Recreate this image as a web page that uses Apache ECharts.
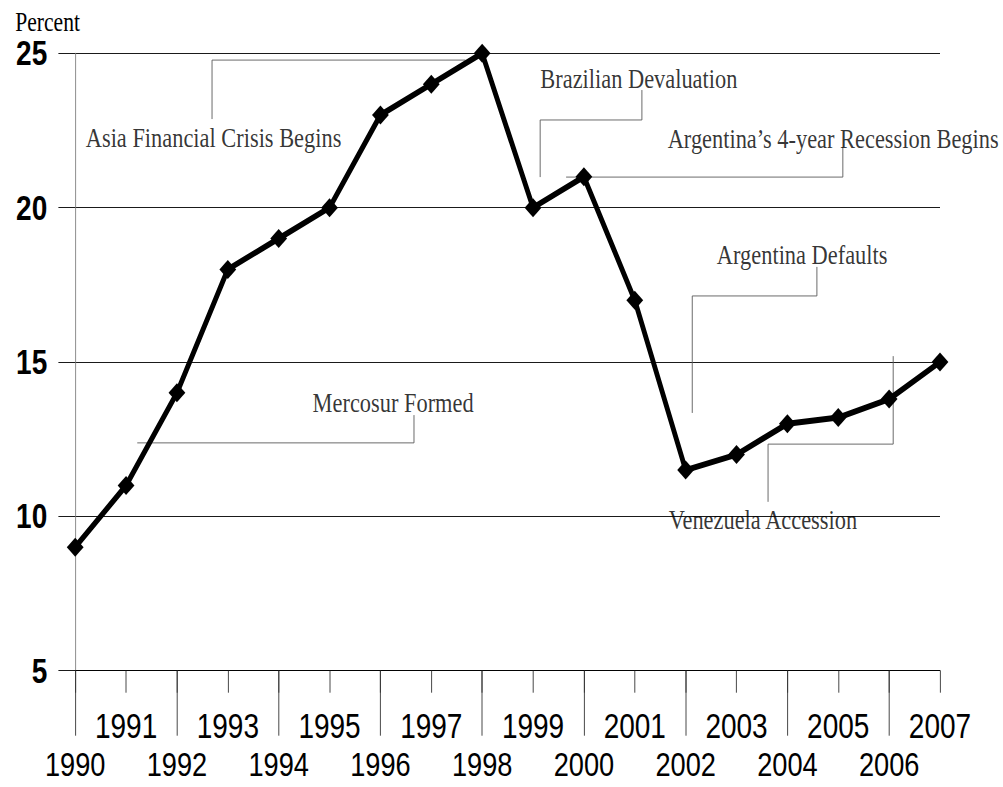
<!DOCTYPE html>
<html>
<head>
<meta charset="utf-8">
<title>Percent</title>
<script src="https://cdn.jsdelivr.net/npm/echarts@6/dist/echarts.min.js"></script>
<style>
	html, body { margin: 0; padding: 0; background: #fff; overflow: hidden; }
	/* the source picture is squeezed sideways, so the chart is drawn wider and squeezed back */
	#rate-chart {
		position: absolute; left: 0; top: 0;
		width: 1254px; height: 787px;
		transform: scaleX(0.8); transform-origin: 0 0;
	}
</style>
</head>
<body>
<div id="rate-chart"></div>
<script>

/*Chart data*/

var years = ['1990', '1991', '1992', '1993', '1994', '1995', '1996', '1997', '1998',
	'1999', '2000', '2001', '2002', '2003', '2004', '2005', '2006', '2007'];
var rates = [9, 11, 14, 18, 19, 20, 23, 24, 25, 20, 21, 17, 11.5, 12, 13, 13.2, 13.8, 15];
var yTicks = [5, 10, 15, 20, 25];

/*Annotations (year, percent)*/

var noteLabels = [
	'Asia Financial Crisis Begins',
	'Brazilian Devaluation',
	'Argentina\u2019s 4-year Recession Begins',
	'Argentina Defaults',
	'Venezuela Accession',
	'Mercosur Formed'
];
var noteAt = [
	[1992.72, 22.29], [2001.08, 24.20], [2004.90, 22.26],
	[2004.29, 18.50], [2003.52, 9.91], [1996.25, 13.70]
];
var noteLeaders = [
	[[1992.69, 22.87], [1992.69, 24.78], [1997.67, 24.78]],
	[[2001.14, 23.81], [2001.14, 22.84], [1999.14, 22.84], [1999.14, 20.99]],
	[[2005.09, 21.96], [2005.09, 20.99], [1999.65, 20.99]],
	[[2004.58, 18.08], [2004.58, 17.14], [2002.13, 17.14], [2002.13, 13.35]],
	[[2003.62, 10.47], [2003.62, 12.34], [2006.08, 12.34], [2006.08, 15.19]],
	[[1996.66, 13.28], [1996.66, 12.38], [1991.22, 12.38]]
];

var sansFont = '"Liberation Sans", Arial, sans-serif';
var serifFont = '"Liberation Serif", "Times New Roman", serif';

var chart = echarts.init(document.getElementById('rate-chart'), null, { renderer: 'svg' });

//______Leader lines
var series = noteLeaders.map(function (pts) {
	return {
		type: 'line',
		xAxisIndex: 2,
		yAxisIndex: 0,
		data: pts,
		symbol: 'none',
		silent: true,
		animation: false,
		lineStyle: { color: '#5a5a5a', width: 1 },
		z: 1
	};
});

//______Annotation texts
series.push({
	type: 'scatter',
	xAxisIndex: 2,
	yAxisIndex: 0,
	symbolSize: 1,
	silent: true,
	itemStyle: { color: 'rgba(0,0,0,0)' },
	label: {
		show: true,
		position: 'inside',
		formatter: '{b}',
		color: '#000',
		fontFamily: serifFont,
		fontSize: 28
	},
	data: noteLabels.map(function (t, i) {
		return { name: t, value: noteAt[i] };
	}),
	z: 2
});

//______Main line
series.push({
	name: 'Percent',
	type: 'line',
	xAxisIndex: 0,
	yAxisIndex: 0,
	data: rates,
	symbol: 'diamond',
	symbolSize: [21, 19],
	itemStyle: { color: '#000' },
	lineStyle: { color: '#000', width: 6 },
	animation: false,
	z: 5
});

var option = {
	animation: false,
	backgroundColor: '#fff',
	title: {
		text: 'Percent',
		left: 14,
		top: 3,
		textStyle: { fontFamily: serifFont, fontSize: 27, fontWeight: 'normal', color: '#000' }
	},
	grid: {
		left: 94,
		right: 79,
		top: 53.3,
		bottom: 116.3,
		containLabel: false,
		outerBoundsMode: 'none'
	},
	xAxis: [
		{
			type: 'category',
			data: years,
			boundaryGap: false,
			position: 'bottom',
			axisLine: { lineStyle: { color: '#000', width: 1 } },
			axisTick: { show: true, interval: 0, length: 22, lineStyle: { color: '#333' } },
			axisLabel: {
				interval: function (i) { return i % 2 === 1; },
				margin: 41,
				lineHeight: 28,
				fontFamily: sansFont,
				fontSize: 35,
				color: '#000'
			},
			splitLine: { show: false }
		},
		{
			type: 'category',
			data: years,
			boundaryGap: false,
			position: 'bottom',
			axisLine: { show: false },
			axisTick: {
				show: true,
				interval: function (i) { return i % 2 === 0; },
				length: 65,
				lineStyle: { color: '#333' }
			},
			axisLabel: {
				interval: function (i) { return i % 2 === 0; },
				margin: 80,
				lineHeight: 28,
				fontFamily: sansFont,
				fontSize: 34,
				color: '#000'
			},
			splitLine: { show: false }
		},
		{
			type: 'value',
			min: +years[0],
			max: +years[years.length - 1],
			show: false
		}
	],
	yAxis: {
		type: 'value',
		min: yTicks[0],
		max: yTicks[yTicks.length - 1],
		interval: yTicks[1] - yTicks[0],
		axisLine: { show: true, lineStyle: { color: '#808080', width: 1 } },
		axisTick: { show: true, length: 21, lineStyle: { color: '#000' } },
		axisLabel: {
			margin: 35,
			fontFamily: sansFont,
			fontSize: 35,
			fontWeight: 'bold',
			color: '#000'
		},
		splitLine: { lineStyle: { color: '#000', width: 1 } }
	},
	series: series
};

chart.setOption(option);

</script>
</body>
</html>
